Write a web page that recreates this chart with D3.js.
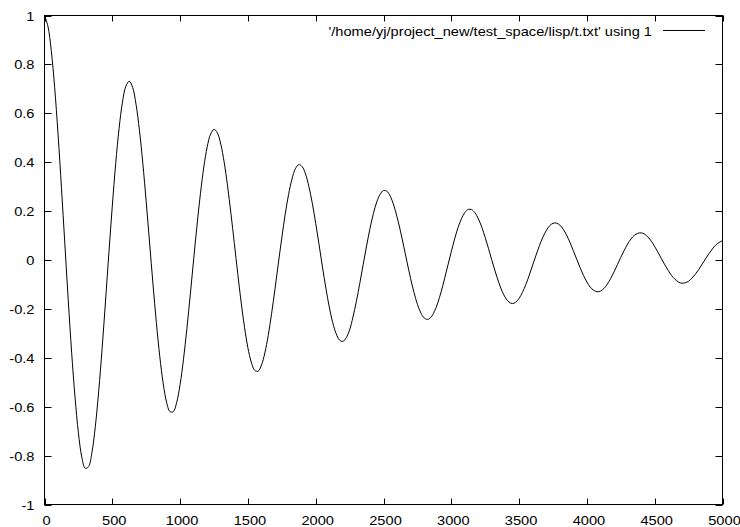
<!DOCTYPE html>
<html><head><meta charset="utf-8">
<script src="https://cdn.jsdelivr.net/npm/d3@7"></script>
<style>body{margin:0;background:#fff}svg{display:block}text{font-family:"Liberation Sans",Arial,sans-serif;font-size:12px;fill:#000}</style>
</head><body>
<script>
const xStep = 25;
const yValues = [
1.000,0.957,0.856,0.705,0.514,0.296,0.066,-0.163,-0.377,-0.561,
-0.707,-0.806,-0.852,-0.845,-0.786,-0.680,-0.535,-0.361,-0.168,0.030,
0.221,0.394,0.538,0.646,0.711,0.731,0.706,0.637,0.531,0.396,
0.238,0.070,-0.098,-0.256,-0.394,-0.504,-0.581,-0.620,-0.620,-0.582,
-0.509,-0.406,-0.281,-0.142,0.003,0.143,0.272,0.381,0.463,0.515,
0.534,0.520,0.474,0.400,0.303,0.190,0.068,-0.055,-0.172,-0.275,
-0.359,-0.418,-0.451,-0.455,-0.430,-0.380,-0.308,-0.218,-0.118,-0.012,
0.091,0.187,0.268,0.331,0.373,0.390,0.382,0.352,0.300,0.232,
0.150,0.062,-0.029,-0.115,-0.192,-0.255,-0.300,-0.327,-0.333,-0.318,
-0.286,-0.233,-0.169,-0.096,-0.019,0.057,0.128,0.189,0.237,0.269,
0.284,0.281,0.261,0.225,0.176,0.118,0.054,-0.012,-0.076,-0.133,
-0.181,-0.216,-0.237,-0.243,-0.234,-0.211,-0.176,-0.130,-0.077,-0.021,
0.034,0.087,0.133,0.169,0.194,0.207,0.206,0.193,0.168,0.134,
0.092,0.046,-0.003,-0.049,-0.092,-0.128,-0.155,-0.172,-0.178,-0.173,
-0.157,-0.132,-0.100,-0.062,-0.021,0.020,0.059,0.093,0.120,0.140,
0.150,0.151,0.143,0.126,0.102,0.072,0.038,0.003,-0.032,-0.063,
-0.090,-0.111,-0.124,-0.130,-0.127,-0.117,-0.099,-0.076,-0.049,-0.019,
0.011,0.039,0.065,0.086,0.101,0.109,0.111,0.106,0.094,0.077,
0.055,0.031,0.005,-0.020,-0.043,-0.064,-0.079,-0.090,-0.095,-0.093,
-0.087,-0.074,-0.058,-0.039,-0.017,0.005,0.026,0.045,0.061,0.072,
0.079];
const xTicks = [0,500,1000,1500,2000,2500,3000,3500,4000,4500,5000];
const yTicks = [-1,-0.8,-0.6,-0.4,-0.2,0,0.2,0.4,0.6,0.8,1];
const legendLabel = "'/home/yj/project_new/test_space/lisp/t.txt' using 1";

const W=740,H=527, L=44.5, R=722.5, T=15.5, B=504.5, SX=1.22;
const svg=d3.select("body").append("svg").attr("width",W).attr("height",H);
const x=d3.scaleLinear().domain([0,5000]).range([L,R]);
const y=d3.scaleLinear().domain([-1,1]).range([B,T]);
const data=yValues.map((v,i)=>[i*xStep,v]);

const fmt=d=>String(+d.toFixed(1));
const g=svg.append("g").attr("stroke","#000").attr("stroke-width",1);
xTicks.forEach(t=>{
  const px=Math.round(x(t))+0.5;
  g.append("line").attr("x1",px).attr("x2",px).attr("y1",B).attr("y2",B-6);
  g.append("line").attr("x1",px).attr("x2",px).attr("y1",T).attr("y2",T+6);
});
yTicks.forEach(t=>{
  const py=Math.round(y(t))+0.5;
  g.append("line").attr("x1",L).attr("x2",L+7).attr("y1",py).attr("y2",py);
  g.append("line").attr("x1",R).attr("x2",R-7).attr("y1",py).attr("y2",py);
});
function label(px,py,anchor,txt){
  svg.append("text").attr("transform",`translate(${px},${py}) scale(${SX},1)`)
    .attr("text-anchor",anchor).text(txt);
}
xTicks.forEach(t=>label(x(t)+2,524.5,"middle",fmt(t)));
yTicks.forEach(t=>label(L-10,y(t)+5,"end",fmt(t)));
svg.append("path").datum(data).attr("fill","none").attr("stroke","#000").attr("stroke-width",1)
  .attr("d",d3.line().x(d=>x(d[0])).y(d=>y(d[1])).curve(d3.curveCatmullRom.alpha(0.5)));
svg.append("rect").attr("x",L).attr("y",T).attr("width",R-L).attr("height",B-T)
  .attr("fill","none").attr("stroke","#000").attr("stroke-width",1);
label(652,35.5,"end",legendLabel);
svg.append("line").attr("x1",663).attr("x2",705).attr("y1",30.5).attr("y2",30.5).attr("stroke","#000").attr("stroke-width",1);
</script>
</body></html>
